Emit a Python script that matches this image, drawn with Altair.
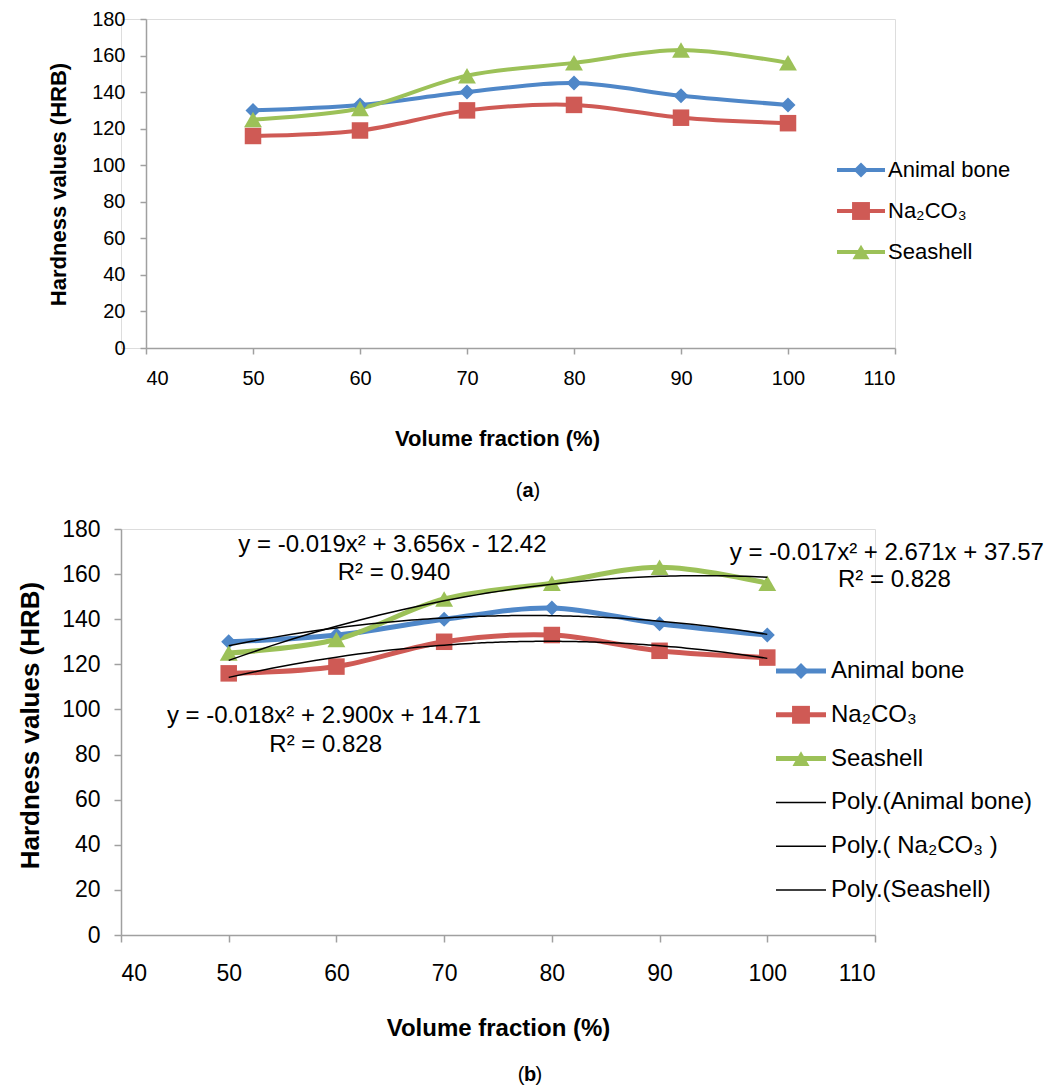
import altair as alt
import pandas as pd

FONT = "Liberation Sans"

# ---------------- data ----------------
volume_fraction = [50, 60, 70, 80, 90, 100]
animal_bone = [130, 133, 140, 145, 138, 133]
na2co3 = [116, 119, 130, 133, 126, 123]
seashell = [125, 131, 149, 156, 163, 156]

series_names = ["Animal bone", "Na₂CO₃", "Seashell"]
legend_labels_a = ["Animal bone", "Na₂CO₃", "Seashell"]
legend_labels_b = ["Animal bone", " Na₂CO₃", "Seashell"]
trend_labels = ["Poly.(Animal bone)", "Poly.( Na₂CO₃ )", "Poly.(Seashell)"]
series_colors = ["#4F87C8", "#CF5A55", "#9CC158"]
series_shapes = ["diamond", "square", "triangle-up"]

x_ticks = [40, 50, 60, 70, 80, 90, 100, 110]
y_ticks = [0, 20, 40, 60, 80, 100, 120, 140, 160, 180]

eq_texts = [
    "y = -0.019x² + 3.656x - 12.42", "R² = 0.940",
    "y = -0.018x² + 2.900x + 14.71", "R² = 0.828",
    "y = -0.017x² + 2.671x + 37.57", "R² = 0.828",
]
eq_x = [65.2, 65.35, 58.85, 59.0, 111.1, 111.8]
eq_y = [172.9, 160.5, 97.1, 84.2, 169.4, 157.4]

rows = []
for name, vals in zip(series_names, [animal_bone, na2co3, seashell]):
    for xv, yv in zip(volume_fraction, vals):
        rows.append({"x": xv, "y": yv, "series": name})
df = pd.DataFrame(rows)
eq_df = pd.DataFrame({"x": eq_x, "y": eq_y, "text": eq_texts})

color_scale = alt.Scale(domain=series_names, range=series_colors)
shape_scale = alt.Scale(domain=series_names, range=series_shapes)


def encodings(p):
    x = alt.X(
        "x:Q",
        scale=alt.Scale(domain=[40, 110], nice=False, zero=False, range=[p["x0"], p["x1"]]),
        axis=alt.Axis(
            values=x_ticks, grid=False, title="Volume fraction (%)",
            labelFontSize=p["tick"], labelFont=FONT, labelColor="black",
            labelPadding=p["xlp"], tickSize=p["ts"], tickColor="#A0A0A0",
            tickWidth=1.5, domainColor="#A0A0A0", domainWidth=1.5,
            titleFont=FONT, titleFontSize=p["xt"], titleFontWeight="bold",
            titleColor="black", titleX=p["xtx"], titleY=p["xty"],
            titleBaseline="middle", titleAlign="center",
        ),
    )
    y = alt.Y(
        "y:Q",
        scale=alt.Scale(domain=[0, 180], nice=False, zero=False),
        axis=alt.Axis(
            values=y_ticks, grid=False, title="Hardness values (HRB)",
            offset=p["yoff"],
            labelFontSize=p["tick"], labelFont=FONT, labelColor="black",
            labelPadding=p["ylp"], tickSize=p["ts"], tickColor="#A0A0A0",
            tickWidth=1.5, domainColor="#A0A0A0", domainWidth=1.5,
            titleFont=FONT, titleFontSize=p["yt"], titleFontWeight="bold",
            titleColor="black", titleX=p["ytx"], titleY=p["yty"],
            titleBaseline="middle", titleAlign="center", titleAngle=270,
        ),
    )
    return x, y


def data_layers(p):
    x, y = encodings(p)
    lines = alt.Chart(df).mark_line(
        interpolate="catmull-rom", strokeWidth=p["lw"]
    ).encode(
        x=x, y=y,
        color=alt.Color("series:N", scale=color_scale, legend=None),
        detail="series:N",
    )
    points = alt.Chart(df).mark_point(filled=True, opacity=1, strokeWidth=0).encode(
        x=x, y=y,
        color=alt.Color("series:N", scale=color_scale, legend=None),
        shape=alt.Shape("series:N", scale=shape_scale, legend=None),
        size=alt.Size("series:N", scale=alt.Scale(domain=series_names, range=p["msize"]), legend=None),
    )
    return [lines, points]


def legend_layers(entries, p):
    layers = []
    for i, e in enumerate(entries):
        ly = p["ly0"] + i * p["ldy"]
        d = pd.DataFrame({"label": [e["label"]]})
        layers.append(
            alt.Chart(d).mark_rule(color=e["color"], strokeWidth=e["lw"]).encode(
                x=alt.value(p["lx1"]), x2=alt.value(p["lx2"]), y=alt.value(ly)
            )
        )
        if e.get("shape"):
            layers.append(
                alt.Chart(d).mark_point(
                    shape=e["shape"], filled=True, opacity=1, strokeWidth=0,
                    color=e["color"], size=e["size"],
                ).encode(x=alt.value(p["lxm"]), y=alt.value(ly))
            )
        layers.append(
            alt.Chart(d).mark_text(
                align="left", baseline="middle", fontSize=p["lfs"], font=FONT, color="black"
            ).encode(x=alt.value(p["lxt"]), y=alt.value(ly), text="label:N")
        )
    return layers


def caption_layers(letter, cx, cy, fs):
    d = pd.DataFrame({"o": ["("], "l": [letter], "c": [")"]})
    half = fs * 0.556 / 2
    return [
        alt.Chart(d).mark_text(align="right", baseline="middle", fontSize=fs, font=FONT, color="black")
        .encode(x=alt.value(cx - half), y=alt.value(cy), text="o:N"),
        alt.Chart(d).mark_text(align="center", baseline="middle", fontSize=fs, font=FONT,
                               fontWeight="bold", color="black")
        .encode(x=alt.value(cx), y=alt.value(cy), text="l:N"),
        alt.Chart(d).mark_text(align="left", baseline="middle", fontSize=fs, font=FONT, color="black")
        .encode(x=alt.value(cx + half), y=alt.value(cy), text="c:N"),
    ]


# ---------------- panel (a) ----------------
# panel (a) sits 25px to the right of panel (b): shift its x range and y axis
SH = 25
pa = dict(x0=SH, x1=SH + 749, yoff=-SH,
          tick=20, xlp=14, ylp=15, ts=6, xt=22, yt=22, xtx=SH + 351, xty=90,
          ytx=-88, yty=165, lw=4, msize=[225, 320, 290],
          ly0=151, ldy=41, lx1=SH + 691, lx2=SH + 739, lxm=SH + 715, lxt=SH + 742, lfs=22)
entries_a = [
    {"label": legend_labels_a[i], "color": series_colors[i], "lw": 4,
     "shape": series_shapes[i], "size": pa["msize"][i]}
    for i in range(3)
]
panel_a = alt.layer(
    *data_layers(pa),
    *legend_layers(entries_a, pa),
    *caption_layers("a", SH + 382, 472, 20),
).properties(width=SH + 749, height=329)

# ---------------- panel (b) ----------------
pb = dict(x0=0, x1=754, yoff=0,
          tick=23, xlp=20, ylp=14, ts=7, xt=24, yt=26, xtx=377, xty=93,
          ytx=-91, yty=196, lw=5, msize=[250, 320, 290],
          ly0=142, ldy=43.8, lx1=655, lx2=705, lxm=680, lxt=710, lfs=24)
xb, yb = encodings(pb)
trend = alt.Chart(df).transform_regression(
    "x", "y", groupby=["series"], method="poly", order=2
).mark_line(color="black", strokeWidth=1.5).encode(x=xb, y=yb, detail="series:N")
eqs = alt.Chart(eq_df).mark_text(
    fontSize=24, font=FONT, color="black", align="center", baseline="middle"
).encode(x=xb, y=yb, text="text:N")

entries_b = [
    {"label": legend_labels_b[i], "color": series_colors[i], "lw": 5,
     "shape": series_shapes[i], "size": pb["msize"][i]}
    for i in range(3)
] + [
    {"label": trend_labels[i], "color": "black", "lw": 1.5}
    for i in range(3)
]
panel_b = alt.layer(
    *data_layers(pb),
    trend,
    eqs,
    *legend_layers(entries_b, pb),
    *caption_layers("b", 409, 546, 20),
).properties(width=754, height=406)

chart = alt.vconcat(panel_a, panel_b, spacing=181, bounds="flush").properties(
    padding={"left": 8, "top": 0, "right": 0, "bottom": 0}
).configure_view(stroke="transparent").configure(background="white")

chart.save("out.html", embed_options={"renderer": "svg", "actions": False})
